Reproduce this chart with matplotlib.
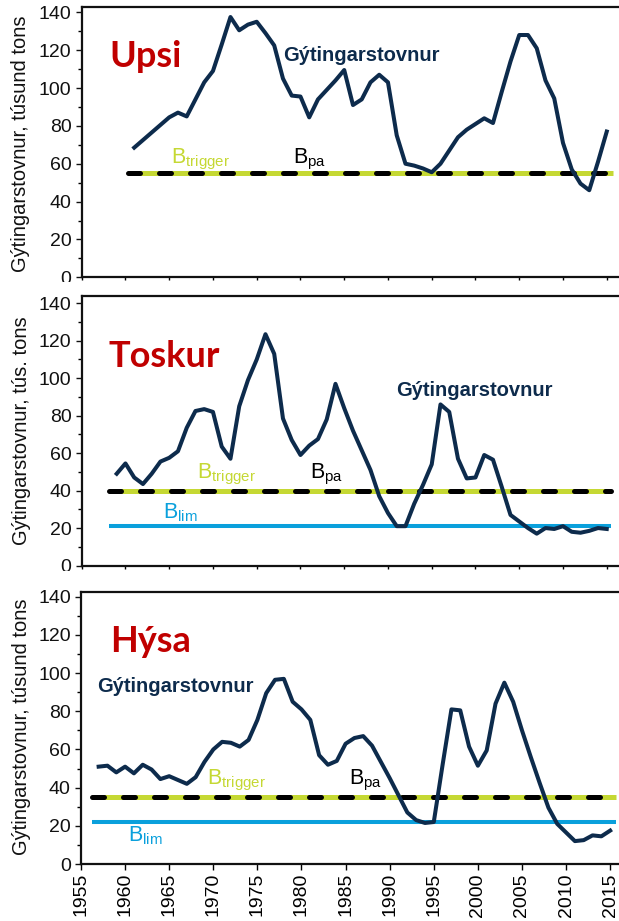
import matplotlib
matplotlib.use("Agg")
import matplotlib.pyplot as plt
from matplotlib.patches import Rectangle
from matplotlib.ticker import MultipleLocator

plt.rcParams['font.family'] = ['Liberation Sans', 'DejaVu Sans']
plt.rcParams['mathtext.fontset'] = 'custom'
plt.rcParams['mathtext.rm'] = 'Liberation Sans'
plt.rcParams['mathtext.it'] = 'Liberation Sans:italic'
plt.rcParams['mathtext.bf'] = 'Liberation Sans:bold'

# ---------------- data ----------------
upsi_years = list(range(1961, 2016))
upsi_ssb = [68.5, 72.5, 76.5, 80.5, 84.5, 87, 85, 94, 103, 109,
            123, 137.5, 130.5, 133.5, 135, 129, 122.5, 105, 96, 95.5,
            84.5, 94, 99, 104, 109.5, 91, 94, 103, 107, 103,
            75, 60, 59, 57.5, 55.5, 60, 67, 74, 78, 81,
            84, 81.5, 98, 114, 128, 128, 121, 104, 94.5, 71,
            57, 49.5, 46, 61, 77]
upsi_bpa = 55
upsi_ref_span = [1960.3, 2015.7]

toskur_years = list(range(1959, 2016))
toskur_ssb = [49, 54.5, 47, 43.5, 49, 55.5, 57.5, 61, 73.5, 82.5,
              83.5, 82, 63.5, 57, 85, 99, 110, 123.5, 113, 78.5,
              67, 59, 64, 67.5, 78, 97, 84, 72, 61.5, 51,
              37, 28, 21, 21, 33, 43, 54, 86, 82, 57,
              46.5, 47, 59, 56.5, 42, 27, 23.5, 20, 17, 20,
              19.5, 21, 18, 17.5, 18.5, 20, 19.5]
toskur_bpa = 40
toskur_blim = 21
toskur_ref_span = [1958.1, 2015.5]

hysa_years = list(range(1957, 2016))
hysa_ssb = [51, 51.5, 48, 51, 47.5, 52, 49.5, 44.5, 46, 44,
            42, 45.5, 53.5, 60, 64, 63.5, 61.5, 65, 75.5, 89.5,
            96.5, 97, 85, 81, 75.5, 57, 52, 54, 63, 66,
            67, 62, 53.5, 45, 36, 27, 23, 21.5, 22, 52,
            81, 80.5, 61.5, 51.5, 59.5, 84, 95, 85, 70, 56,
            42.5, 29.5, 21, 16.5, 12, 12.5, 15, 14.5, 17.5]
hysa_bpa = 35
hysa_blim = 22
hysa_ref_span = [1956.2, 2015.7]

species = ["Upsi", "Toskur", "Hýsa"]
ylabels = ["Gýtingarstovnur, túsund tons", "Gýtingarstovnur, tús. tons",
           "Gýtingarstovnur, túsund tons"]
series_label = "Gýtingarstovnur"
year_ticks = list(range(1955, 2020, 5))

# ---------------- styles ----------------
NAVY = "#0D2B4C"
RED = "#C00000"
LIME = "#C5D833"
BLUE = "#0AA0DC"

W, H = 619, 921
fig = plt.figure(figsize=(W / 100, H / 100), dpi=100)


def add_ax(left_px, top_px, bottom_px):
    return fig.add_axes([left_px / W, 1 - bottom_px / H,
                         1 - left_px / W, (bottom_px - top_px) / H])


ax1 = add_ax(81.7, 7, 277.3)
ax2 = add_ax(81.7, 296, 565.5)
ax3 = add_ax(81.0, 592, 864)

ax1.set_xlim(1955, 2016.4)
ax2.set_xlim(1955, 2016.4)
ax3.set_xlim(1955, 2016.0)
ax1.set_ylim(0, 142.8)
ax2.set_ylim(0, 143.9)
ax3.set_ylim(0, 142.5)


def style(ax, show_xlabels, xtick_len):
    for s in ["left", "top", "bottom"]:
        ax.spines[s].set_linewidth(1.6)
        ax.spines[s].set_color("#111111")
    ax.spines["right"].set_visible(False)
    ax.yaxis.set_major_locator(MultipleLocator(20))
    ax.yaxis.set_minor_locator(MultipleLocator(10))
    ax.set_xticks(year_ticks)
    ax.tick_params(axis="y", which="major", direction="out", length=4.3,
                   width=1.0, labelsize=14, pad=3, colors="#111111")
    ax.tick_params(axis="y", which="minor", direction="out", length=3.0,
                   width=1.0)
    ax.tick_params(axis="x", which="major", direction="out", length=xtick_len,
                   width=1.0, labelsize=14, labelrotation=90, pad=2,
                   labelbottom=show_xlabels)


style(ax1, False, 2.5)
style(ax2, False, 2.5)
style(ax3, True, 4.5)


def ref_trigger(ax, span, val):
    ax.plot(span, [val, val], color=LIME, lw=3.6, solid_capstyle="butt",
            zorder=2)
    ax.plot(span, [val, val], color="black", lw=3.6, dashes=(2.4, 3.8),
            dash_capstyle="round", zorder=3)


def ref_lim(ax, span, val):
    ax.plot(span, [val, val], color=BLUE, lw=2.9, solid_capstyle="butt",
            zorder=2)


def btext(ax, x, y, sub, color):
    ax.text(x, y, r"$\mathregular{B_{%s}}$" % sub, color=color, fontsize=15.5,
            transform=ax.transAxes, ha="left", va="baseline")


# Upsi
ref_trigger(ax1, upsi_ref_span, upsi_bpa)
ax1.plot(upsi_years, upsi_ssb, color=NAVY, lw=2.9, zorder=4)
# Toskur
ref_lim(ax2, toskur_ref_span, toskur_blim)
ref_trigger(ax2, toskur_ref_span, toskur_bpa)
ax2.plot(toskur_years, toskur_ssb, color=NAVY, lw=2.9, zorder=4)
# Hysa
ref_lim(ax3, hysa_ref_span, hysa_blim)
ref_trigger(ax3, hysa_ref_span, hysa_bpa)
ax3.plot(hysa_years, hysa_ssb, color=NAVY, lw=2.9, zorder=4)

# titles
title_pos = [(0.052, 0.778), (0.050, 0.7366), (0.055, 0.779)]
series_pos = [(0.3747, 0.800), (0.585, 0.629), (0.0297, 0.632)]
for ax, name, tp, sp in zip([ax1, ax2, ax3], species, title_pos, series_pos):
    ax.text(tp[0], tp[1], name, transform=ax.transAxes, color=RED,
            fontsize=26, fontweight="bold", family=["Lato", "DejaVu Sans"],
            ha="left", va="baseline")
    ax.text(sp[0], sp[1], series_label, transform=ax.transAxes, color=NAVY,
            fontsize=14.5, fontweight="bold", ha="left", va="baseline")

# reference labels
btext(ax1, 0.166, 0.4218, "trigger", LIME)
btext(ax1, 0.394, 0.4218, "pa", "black")
btext(ax2, 0.214, 0.3236, "trigger", LIME)
btext(ax2, 0.425, 0.3236, "pa", "black")
btext(ax2, 0.151, 0.176, "lim", BLUE)
btext(ax3, 0.2336, 0.294, "trigger", LIME)
btext(ax3, 0.4987, 0.294, "pa", "black")
btext(ax3, 0.0874, 0.082, "lim", BLUE)

# y labels
ylab_pos = [(-0.1133, 0.495), (-0.1126, 0.499), (-0.111, 0.504)]
for ax, lab, p in zip([ax1, ax2, ax3], ylabels, ylab_pos):
    ax.set_ylabel(lab, fontsize=14.5, color="#111111", va="center")
    ax.yaxis.set_label_coords(p[0], p[1])

# panels overlap: the lower panel hides the bottom of the upper "0" label
fig.patches.append(Rectangle((0, 1 - 294 / H), 80 / W, 12 / H,
                             transform=fig.transFigure, facecolor="white",
                             edgecolor="none", zorder=5))
fig.patches.append(Rectangle((0, 1 - 590 / H), 80 / W, 19 / H,
                             transform=fig.transFigure, facecolor="white",
                             edgecolor="none", zorder=5))

fig.savefig("out.png", dpi=100)
